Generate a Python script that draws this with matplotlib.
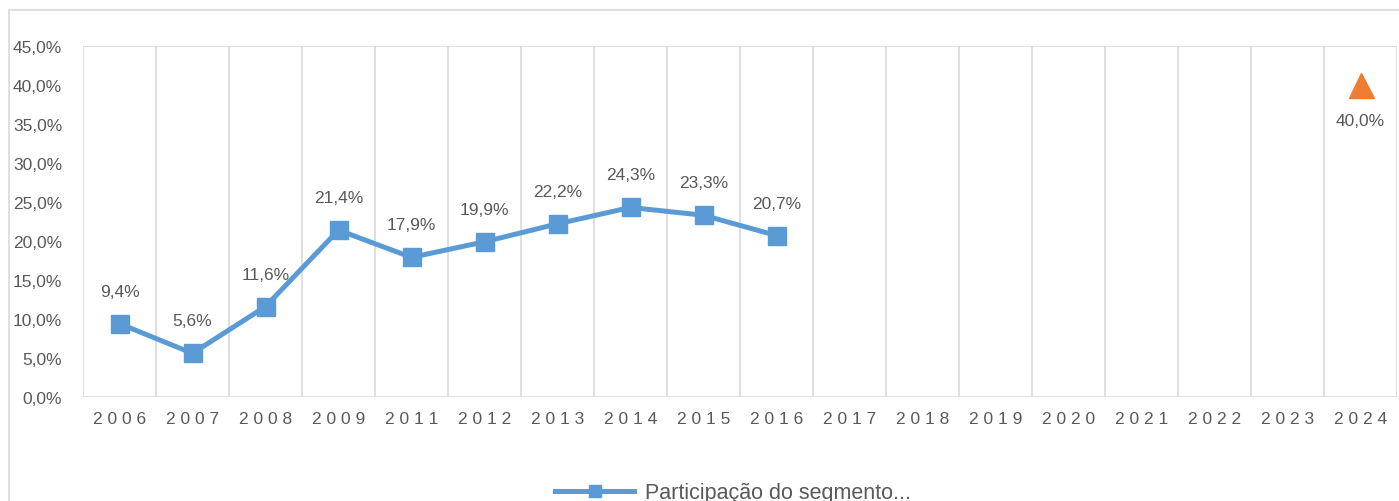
import numpy as np
import matplotlib.pyplot as plt
from matplotlib.patches import Rectangle

plt.rcParams['font.family'] = ['Liberation Sans', 'DejaVu Sans']

# chart data
years = ['2006', '2007', '2008', '2009', '2011', '2012', '2013', '2014', '2015',
         '2016', '2017', '2018', '2019', '2020', '2021', '2022', '2023', '2024']
share = [9.4, 5.6, 11.6, 21.4, 17.9, 19.9, 22.2, 24.3, 23.3, 20.7]
target_year = '2024'
target_value = 40.0

blue = '#5B9BD5'
orange = '#ED7D31'
grey_txt = '#595959'
grid_col = '#D9D9D9'

fig = plt.figure(figsize=(13.99, 5.02), dpi=100)
W, H = 1399, 502
ax = fig.add_axes([83 / W, 1 - 398 / H, (1397 - 83) / W, (398 - 47) / H])

# outer chart border (cut off on right and bottom)
fig.patches.append(Rectangle((9 / W, -0.1), 1.2, 1 - 11 / H + 0.1,
                             transform=fig.transFigure, fill=False,
                             edgecolor=grid_col, linewidth=1.2))

x = np.arange(len(years))
ax.set_xlim(-0.5, len(years) - 0.5)
ax.set_ylim(0, 45)

for b in np.arange(-0.5, len(years), 1):
    ax.axvline(b, color=grid_col, linewidth=1.2, zorder=0)
ax.axhline(45, color=grid_col, linewidth=1.2, zorder=0)
ax.axhline(0, color=grid_col, linewidth=1.2, zorder=0)
for s in ax.spines.values():
    s.set_visible(False)

line, = ax.plot(x[:len(share)], share, color=blue, linewidth=3.6, marker='s',
                markersize=13, zorder=3, label='Participação do segmento...')
for xi, v in zip(x, share):
    ax.annotate(f'{v:.1f}%'.replace('.', ','), (xi, v), xytext=(0, 18),
                textcoords='offset points', ha='center', va='bottom',
                fontsize=12.5, color=grey_txt)

ti = years.index(target_year)
ax.plot([ti], [target_value], marker='^', color=orange, markersize=18,
        linestyle='none', zorder=3)
ax.annotate(f'{target_value:.1f}%'.replace('.', ','), (ti, target_value),
            xytext=(0, -20), textcoords='offset points', ha='center', va='top',
            fontsize=12.5, color=grey_txt)

ax.set_yticks(np.arange(0, 46, 5))
ax.set_yticklabels([f'{v:.1f}%'.replace('.', ',') for v in np.arange(0, 46, 5)],
                   fontsize=12.5, color=grey_txt)
ax.set_xticks(x)
ax.set_xticklabels([' '.join(y) for y in years], fontsize=12.5, color=grey_txt)
ax.tick_params(axis='both', length=0)
ax.tick_params(axis='y', pad=15)
ax.tick_params(axis='x', pad=10)

fig.legend(handles=[line], loc='center', bbox_to_anchor=(733 / W, 1 - 494 / H),
           frameon=False, fontsize=15.5, labelcolor=grey_txt, handlelength=3.7,
           handletextpad=0.5, markerscale=0.7)

fig.savefig('out.png', dpi=100)
